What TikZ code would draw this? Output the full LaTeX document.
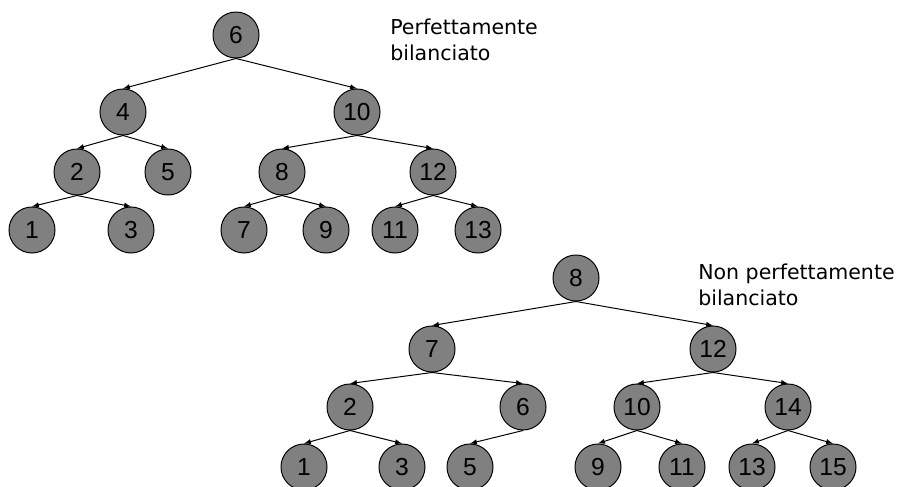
\documentclass[tikz,border=0pt]{standalone}
\usepackage{fontspec}
\setmainfont{Liberation Sans}
\newfontfamily\labelfont{DejaVu Sans}
\usetikzlibrary{arrows,positioning}
\tikzset{knot/.style={circle, draw, fill=gray, minimum size=1.15cm, inner sep=0pt, line width=0.7pt, font=\fontsize{17.5}{17.5}\selectfont},
  edge/.style={-latex, line width=0.7pt},
  caption/.style={anchor=west, inner sep=0pt, align=left, font=\labelfont\fontsize{14.6}{18.5}\selectfont}}

\begin{document}
\begin{tikzpicture}[x=0.025cm, y=-0.025cm]
\useasboundingbox (0,0) rectangle (902,487);
% first tree
\node[knot] (a6) at (236,35) {6};
\node[knot] (a4) at (123,112) {4};
\node[knot] (a10) at (357,112) {10};
\node[knot] (a2) at (77,172) {2};
\node[knot] (a5) at (168,172) {5};
\node[knot] (a8) at (282,172) {8};
\node[knot] (a12) at (433,172) {12};
\node[knot] (a1) at (32,230) {1};
\node[knot] (a3) at (131,230) {3};
\node[knot] (a7) at (244,230) {7};
\node[knot] (a9) at (326,230) {9};
\node[knot] (a11) at (395,230) {11};
\node[knot] (a13) at (478,230) {13};
\draw[edge] (a6.south) -- (a4.north);
\draw[edge] (a6.south) -- (a10.north);
\draw[edge] (a4.south) -- (a2.north);
\draw[edge] (a4.south) -- (a5.north);
\draw[edge] (a10.south) -- (a8.north);
\draw[edge] (a10.south) -- (a12.north);
\draw[edge] (a2.south) -- (a1.north);
\draw[edge] (a2.south) -- (a3.north);
\draw[edge] (a8.south) -- (a7.north);
\draw[edge] (a8.south) -- (a9.north);
\draw[edge] (a12.south) -- (a11.north);
\draw[edge] (a12.south) -- (a13.north);
\node[caption] (lab1) at (390,40) {Perfettamente\\bilanciato};

% second tree
\node[knot] (b8) at (576,278) {8};
\node[knot] (b7) at (432,349) {7};
\node[knot] (b12) at (713,349) {12};
\node[knot] (b2) at (350,407) {2};
\node[knot] (b6) at (523,407) {6};
\node[knot] (b10) at (637,407) {10};
\node[knot] (b14) at (788,407) {14};
\node[knot] (b1) at (304,467) {1};
\node[knot] (b3) at (402,467) {3};
\node[knot] (b5) at (470,467) {5};
\node[knot] (b9) at (598,467) {9};
\node[knot] (b11) at (682,467) {11};
\node[knot] (b13) at (752,467) {13};
\node[knot] (b15) at (833,467) {15};
\draw[edge] (b8.south) -- (b7.north);
\draw[edge] (b8.south) -- (b12.north);
\draw[edge] (b7.south) -- (b2.north);
\draw[edge] (b7.south) -- (b6.north);
\draw[edge] (b12.south) -- (b10.north);
\draw[edge] (b12.south) -- (b14.north);
\draw[edge] (b2.south) -- (b1.north);
\draw[edge] (b2.south) -- (b3.north);
\draw[edge] (b6.south) -- (b5.north);
\draw[edge] (b10.south) -- (b9.north);
\draw[edge] (b10.south) -- (b11.north);
\draw[edge] (b14.south) -- (b13.north);
\draw[edge] (b14.south) -- (b15.north);
\node[caption] (lab2) at (698,285) {Non perfettamente\\bilanciato};
\end{tikzpicture}
\end{document}
